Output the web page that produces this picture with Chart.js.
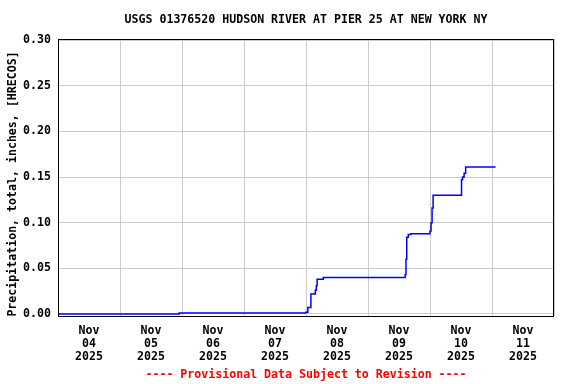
<!DOCTYPE html>
<html>
<head>
<meta charset="utf-8">
<script src="https://cdn.jsdelivr.net/npm/chart.js@4"></script>
<style>
  html, body { margin: 0; padding: 0; background: #ffffff; }
  #wrap { width: 576px; height: 384px; }
</style>
</head>
<body>
<div id="wrap"><canvas id="precipChart" width="576" height="384"></canvas></div>
<script>
// ─── DATA ───────────────────────────────────────────────────────────────────
// hours since Nov 04 2025 00:00, cumulative precipitation in inches
var stepHours = [0, 46.9, 95.9, 96.7, 97.9, 99.6, 100.0, 100.3, 102.7,
    134.4, 134.7, 135.0, 135.6, 136.6, 144.0, 144.4, 144.8, 145.2,
    156.2, 156.6, 157.2, 157.8, 169.4];
var precipTotals = [0.000, 0.001, 0.002, 0.007, 0.022, 0.026, 0.031, 0.038, 0.040,
    0.043, 0.060, 0.084, 0.087, 0.088, 0.091, 0.100, 0.116, 0.130,
    0.147, 0.150, 0.154, 0.161, 0.161];
var dayLabels = ['04', '05', '06', '07', '08', '09', '10', '11'];
var monthLabel = 'Nov';
var yearLabel = '2025';
var yTickValues = [0, 0.05, 0.10, 0.15, 0.20, 0.25, 0.30];

var titleText = 'USGS 01376520 HUDSON RIVER AT PIER 25 AT NEW YORK NY';
var yTitleText = 'Precipitation, total, inches, [HRECOS]';
var footerText = '---- Provisional Data Subject to Revision ----';

var monoFont = '"DejaVu Sans Mono", "Liberation Mono", monospace';

var points = stepHours.map(function (h, i) { return { x: h, y: precipTotals[i] }; });

// ─── TEXT + FRAME PLUGIN ────────────────────────────────────────────────────
var framePlugin = {
    id: 'usgsFrame',
    afterDraw: function (chart) {
        var ctx = chart.ctx;
        var a = chart.chartArea;
        var cx = (a.left + a.right) / 2;
        ctx.save();
        ctx.strokeStyle = '#000000';
        ctx.lineWidth = 1;
        ctx.strokeRect(a.left + 0.5, a.top + 0.5, a.right - a.left - 1, a.bottom - a.top);

        ctx.font = 'bold 11.6px ' + monoFont;
        ctx.textAlign = 'center';
        ctx.textBaseline = 'middle';
        ctx.fillStyle = '#000000';
        ctx.fillText(titleText, cx, 20);

        ctx.fillStyle = '#ff0000';
        ctx.fillText(footerText, cx, 375);

        ctx.fillStyle = '#000000';
        ctx.translate(13, 184);
        ctx.rotate(-Math.PI / 2);
        ctx.fillText(yTitleText, 0, 0);
        ctx.restore();
    }
};

// ─── CHART ──────────────────────────────────────────────────────────────────
new Chart(document.getElementById('precipChart').getContext('2d'), {
    type: 'line',
    data: {
        datasets: [{
            data: points,
            borderColor: '#0000ff',
            borderWidth: 1.5,
            pointRadius: 0,
            stepped: 'before',
            fill: false
        }]
    },
    options: {
        responsive: false,
        animation: false,
        events: [],
        layout: { padding: { top: 39, right: 22, left: 0, bottom: 0 } },
        plugins: { legend: { display: false }, tooltip: { enabled: false }, title: { display: false } },
        scales: {
            x: {
                type: 'linear',
                min: 0,
                max: 192,
                afterBuildTicks: function (scale) {
                    var t = [];
                    for (var h = 0; h <= 192; h += 12) t.push({ value: h });
                    scale.ticks = t;
                },
                afterFit: function (scale) { scale.height = 68; },
                grid: {
                    drawTicks: false,
                    lineWidth: 1,
                    color: function (c) {
                        return (c.tick && c.tick.value % 24 === 0) ? '#cccccc' : 'rgba(0,0,0,0)';
                    }
                },
                border: { display: false },
                ticks: {
                    autoSkip: false,
                    maxRotation: 0,
                    padding: 8,
                    color: '#000000',
                    font: { family: monoFont, size: 11.6, weight: 'bold', lineHeight: '13px' },
                    callback: function (v) {
                        if (v % 24 !== 12) return '';
                        return [monthLabel, dayLabels[(v - 12) / 24], yearLabel];
                    }
                }
            },
            y: {
                min: -0.00219,
                max: 0.3011,
                afterBuildTicks: function (scale) {
                    scale.ticks = yTickValues.map(function (v) { return { value: v }; });
                },
                afterFit: function (scale) { scale.width = 58; },
                grid: { drawTicks: false, color: '#cccccc', lineWidth: 1 },
                border: { display: false },
                ticks: {
                    padding: 7,
                    color: '#000000',
                    font: { family: monoFont, size: 11.6, weight: 'bold' },
                    callback: function (v) { return v.toFixed(2); }
                }
            }
        }
    },
    plugins: [framePlugin]
});
</script>
</body>
</html>
